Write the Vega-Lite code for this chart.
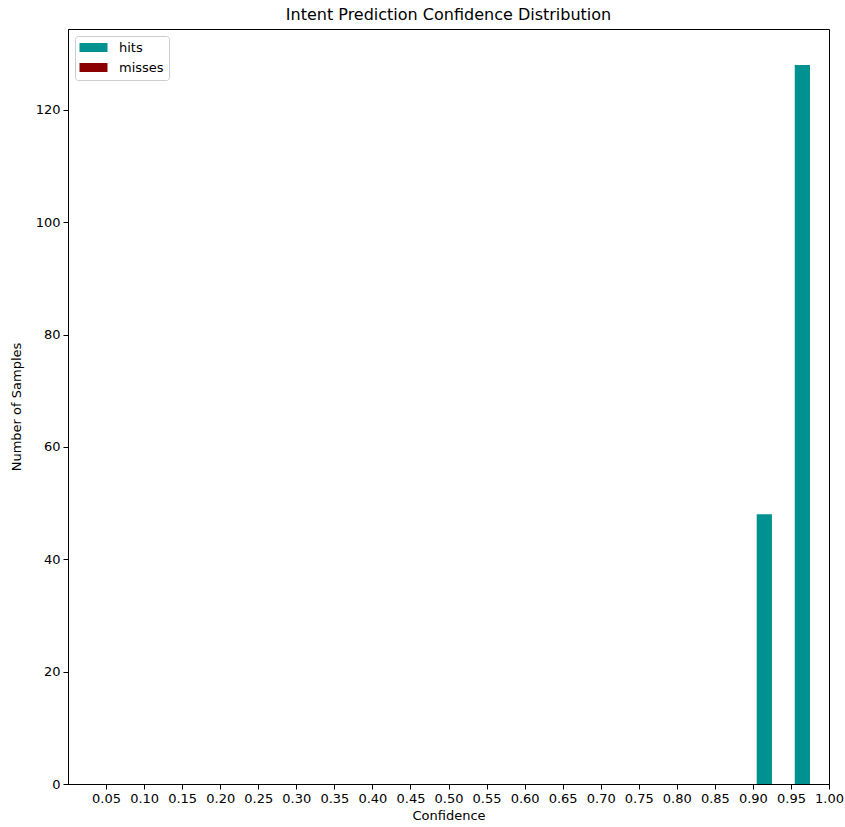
{
  "$schema": "https://vega.github.io/schema/vega-lite/v6.json",
  "autosize": {"type": "none"},
  "padding": {"left": 68, "top": 29, "right": 16, "bottom": 43},
  "width": 761,
  "height": 755,
  "background": "white",
  "config": {
    "font": "DejaVu Sans",
    "view": {"stroke": "black", "strokeWidth": 1}
  },
  "title": {
    "text": "Intent Prediction Confidence Distribution",
    "fontSize": 16,
    "fontWeight": "normal",
    "color": "black",
    "offset": 6
  },
  "data": {
    "values": [
      {"bin": 0.90, "series": "hits", "count": 48},
      {"bin": 0.95, "series": "hits", "count": 128},
      {"bin": 0.90, "series": "misses", "count": 0},
      {"bin": 0.95, "series": "misses", "count": 0}
    ]
  },
  "transform": [
    {"calculate": "datum.bin + (datum.series === 'hits' ? 0.005 : 0.025)", "as": "x0"},
    {"calculate": "datum.x0 + 0.02", "as": "x1"}
  ],
  "mark": {"type": "bar", "opacity": 1},
  "encoding": {
    "x": {
      "field": "x0",
      "type": "quantitative",
      "scale": {"domain": [0, 1.0], "nice": false, "zero": false},
      "axis": {
        "title": "Confidence",
        "values": [0.05,0.10,0.15,0.20,0.25,0.30,0.35,0.40,0.45,0.50,0.55,0.60,0.65,0.70,0.75,0.80,0.85,0.90,0.95,1.00],
        "format": ".2f",
        "labelFontSize": 13,
        "titleFontSize": 13,
        "titleFontWeight": "normal",
        "labelColor": "black",
        "titleColor": "black",
        "domainColor": "black",
        "tickColor": "black",
        "tickSize": 5,
        "labelPadding": 3,
        "titlePadding": 4,
        "grid": false,
        "labelFlush": false,
        "labelOverlap": false
      }
    },
    "x2": {"field": "x1"},
    "y": {
      "field": "count",
      "type": "quantitative",
      "stack": null,
      "scale": {"domain": [0, 134.4], "nice": false, "zero": true},
      "axis": {
        "title": "Number of Samples",
        "values": [0,20,40,60,80,100,120],
        "labelFontSize": 13,
        "titleFontSize": 13,
        "titleFontWeight": "normal",
        "labelColor": "black",
        "titleColor": "black",
        "domainColor": "black",
        "tickColor": "black",
        "tickSize": 5,
        "labelPadding": 3,
        "titlePadding": 12,
        "grid": false,
        "labelFlush": false
      }
    },
    "y2": {"datum": 0},
    "color": {
      "field": "series",
      "type": "nominal",
      "scale": {"domain": ["hits", "misses"], "range": ["#009191", "#8b0000"]},
      "legend": {
        "title": null,
        "orient": "none",
        "legendX": 7,
        "legendY": 7,
        "symbolType": "M-1.4,-0.9H4.2V0.9H-1.4Z",
        "symbolSize": 100,
        "symbolStrokeWidth": 0,
        "labelFontSize": 13,
        "labelColor": "black",
        "labelOffset": 26,
        "rowPadding": 6,
        "strokeColor": "#cccccc",
        "fillColor": "white",
        "cornerRadius": 3,
        "padding": 5
      }
    }
  }
}
